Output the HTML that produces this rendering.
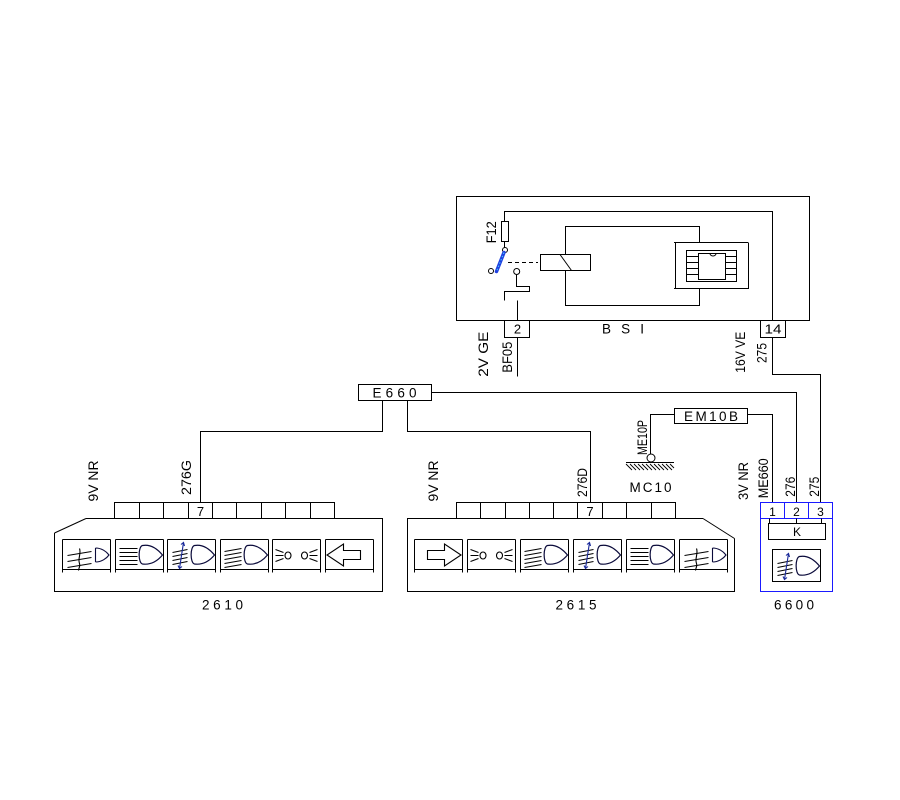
<!DOCTYPE html>
<html><head><meta charset="utf-8"><style>
html,body{margin:0;padding:0;background:#fff;}
svg{display:block;}
text{font-family:"Liberation Sans",sans-serif;fill:#000;}
</style></head><body>
<svg width="900" height="800" viewBox="0 0 900 800" xmlns="http://www.w3.org/2000/svg">
<rect width="900" height="800" fill="#fff"/>
<defs>
  <g id="btn" fill="none" stroke="#000" stroke-width="1" shape-rendering="crispEdges">
    <path d="M0,0 H48 M0,0 V33 M48,0 V33 M0,30 H48"/>
  </g>
  <path id="egg" fill="none" stroke="#0a0a3a" stroke-width="1.2" d="M27,6 C35,4.5 42,9.5 47,15.5 C42,21.5 35,25.5 27,24.5 C22.5,23.5 22.5,7 27,6 Z"/>
  <g id="fog" fill="none" stroke="#000" stroke-width="1.1">
    <path d="M5,16 L29,12 M5,22 L29,18 M5,28 L29,24"/>
    <path d="M17,9 C19,14 15,19 17,24 C18,27 16,29 16,31"/>
    <path stroke="#0a0a3a" d="M33,8.5 V22.5 M33,8.5 C39,8.5 44,12 46.5,15.5 C44,19 39,22.5 33,22.5"/>
  </g>
  <g id="high" fill="none" stroke="#000" stroke-width="1.1">
    <path d="M4,9 H22 M4,13 H22 M4,17 H22 M4,21 H22 M4,25 H22"/>
    <use href="#egg"/>
  </g>
  <g id="dip" fill="none" stroke="#000" stroke-width="1.1">
    <path d="M4,12 L21,9 M4,16 L21,13 M4,20 L21,17 M4,24 L21,21 M4,28 L21,25"/>
    <use href="#egg"/>
  </g>
  <g id="lev" fill="none" stroke="#000" stroke-width="1.1">
    <path d="M5,13 L20,10 M5,17 L20,14 M5,21 L20,18 M5,25 L20,22"/>
    <path stroke="#1a2a9a" d="M16,3 L12,29 M13.5,5 L16,3 L17,6.5 M10.5,26 L12,29 L14.5,27"/>
    <use href="#egg"/>
  </g>
  <g id="side" fill="none" stroke="#000" stroke-width="1.1">
    <path d="M3,10 L11,13 M3,16 H11 M3,22 L11,19"/>
    <ellipse cx="15.5" cy="16" rx="3" ry="3.5"/>
    <ellipse cx="32" cy="16" rx="3" ry="3.5"/>
    <path d="M37,13 L45,10 M37,16 H45 M37,19 L45,22"/>
  </g>
  <g id="arrR" fill="none" stroke="#000" stroke-width="1.1">
    <path d="M13,11 H30 V4.5 L46.5,15.5 L30,26.5 V20 H13 Z"/>
  </g>
  <g id="arrL" fill="none" stroke="#000" stroke-width="1.1">
    <path d="M35,11 H18 V4.5 L1.5,15.5 L18,26.5 V20 H35 Z"/>
  </g>
</defs>

<!-- ===== BSI ===== -->
<g fill="none" stroke="#000" stroke-width="1" shape-rendering="crispEdges">
  <rect x="456.5" y="196.5" width="353" height="124"/>
  <rect x="504.5" y="320.5" width="25" height="17"/>
  <rect x="760.5" y="320.5" width="25" height="17"/>
  <path d="M504.5,221.5 V211.5 H772.5 V320.5"/>
  <rect x="501.5" y="221.5" width="7" height="20"/>
  <path d="M504.5,241.5 V247.5"/>
  <path d="M516.5,275 V286.5 H529.5 V291.5 H504.5 V300.5"/>
  <path d="M517.5,300.5 V320.5"/>
  <rect x="540.5" y="254.5" width="50" height="16"/>
  <path d="M565.5,254.5 V226.5 H699.5 V242.5"/>
  <path d="M565.5,270.5 V305.5 H699.5 V288.5"/>
  <path d="M674,242.5 H748 M675.5,242.5 V289 M748.5,242.5 V289 M674,288.5 H748"/>
  <rect x="686.5" y="250.5" width="50" height="31"/>
  <rect x="698.5" y="253.5" width="27" height="26"/>
  <path d="M686.5,256.5 H698.5 M686.5,262.5 H698.5 M686.5,268.5 H698.5 M686.5,274.5 H698.5 M725.5,256.5 H736.5 M725.5,262.5 H736.5 M725.5,268.5 H736.5 M725.5,274.5 H736.5"/>
  <path d="M517.5,337.5 V376.5"/>
  <path d="M772.5,337.5 V374.5 H820.5 V502.5"/>
</g>
<g fill="none" stroke="#000" stroke-width="1">
  <path d="M560,254.5 L571.5,270.5"/>
  <path d="M508,262.5 H538" stroke-dasharray="4,3"/>
  <circle cx="505" cy="250" r="2.5"/>
  <circle cx="491" cy="271" r="2.5"/>
  <circle cx="516.7" cy="271.5" r="3"/>
  <path d="M710,253.5 A3,2.5 0 0 0 716,253.5"/>
</g>
<path d="M504,252.5 L496.5,271.5" stroke="#2040e0" stroke-width="3.5" stroke-linecap="round"/>
<path d="M504,252.5 L496.5,271.5" stroke="#40d0ff" stroke-width="1" stroke-dasharray="1.5,2"/>

<text x="623" y="333.5" font-size="13.5" text-anchor="middle" textLength="42" lengthAdjust="spacing">BSI</text>
<text x="517.5" y="333.5" font-size="13" text-anchor="middle">2</text>
<text x="773" y="333.5" font-size="13" text-anchor="middle" textLength="17" lengthAdjust="spacingAndGlyphs">14</text>
<text transform="translate(496,243.3) rotate(-90)" font-size="13.5" textLength="22" lengthAdjust="spacingAndGlyphs">F12</text>
<text transform="translate(488,376.7) rotate(-90)" font-size="13.5" textLength="45" lengthAdjust="spacingAndGlyphs">2V GE</text>
<text transform="translate(512,372.7) rotate(-90)" font-size="13.5" textLength="31" lengthAdjust="spacingAndGlyphs">BF05</text>
<text transform="translate(745,372.7) rotate(-90)" font-size="13.5" textLength="41" lengthAdjust="spacingAndGlyphs">16V VE</text>
<text transform="translate(766.5,363) rotate(-90)" font-size="13.5" textLength="20" lengthAdjust="spacingAndGlyphs">275</text>

<!-- ===== E660 / EM10B wiring ===== -->
<g fill="none" stroke="#000" stroke-width="1" shape-rendering="crispEdges">
  <rect x="358.5" y="384.5" width="73" height="16"/>
  <path d="M431.5,392.5 H796.5 V502.5"/>
  <path d="M382.5,400.5 V431.5 H200.5 V502.5"/>
  <path d="M407.5,400.5 V431.5 H590.5 V502.5"/>
  <rect x="674.5" y="408.5" width="73" height="15"/>
  <path d="M674.5,414.5 H650.5 V454"/>
  <path d="M747.5,414.5 H772.5 V502.5"/>
  <path d="M626,462.5 H674"/>
</g>
<circle cx="651" cy="458" r="4" fill="none" stroke="#000" stroke-width="1"/>
<g stroke="#000" stroke-width="0.9">
  <path d="M626,464 L632,470 M630,464 L636,470 M634,464 L640,470 M638,464 L644,470 M642,464 L648,470 M646,464 L652,470 M650,464 L656,470 M654,464 L660,470 M658,464 L664,470 M662,464 L668,470 M666,464 L672,470 M670,464 L674,468"/>
</g>
<text x="394.5" y="397.5" font-size="13.5" text-anchor="middle" textLength="44" lengthAdjust="spacing">E660</text>
<text x="711" y="421" font-size="13.5" text-anchor="middle" textLength="54" lengthAdjust="spacing">EM10B</text>
<text x="650.5" y="492" font-size="13.5" text-anchor="middle" textLength="42" lengthAdjust="spacing">MC10</text>
<text transform="translate(647,455) rotate(-90)" font-size="13.5" textLength="35" lengthAdjust="spacingAndGlyphs">ME10P</text>

<!-- ===== Module 2610 ===== -->
<g fill="none" stroke="#000" stroke-width="1" shape-rendering="crispEdges">
  <rect x="114.5" y="502.5" width="220" height="16"/>
  <path d="M139.5,502.5 V518.5 M163.5,502.5 V518.5 M188.5,502.5 V518.5 M212.5,502.5 V518.5 M236.5,502.5 V518.5 M261.5,502.5 V518.5 M285.5,502.5 V518.5 M310.5,502.5 V518.5"/>
  <path d="M86,518.5 H382.5 V591.5 H54.5 V533"/>
</g>
<path d="M54.5,533 L86,518.5" stroke="#000" stroke-width="1" fill="none"/>
<use href="#btn" transform="translate(62.5,539.5)"/>
<use href="#btn" transform="translate(115.5,539.5)"/>
<use href="#btn" transform="translate(167.5,539.5)"/>
<use href="#btn" transform="translate(220.5,539.5)"/>
<use href="#btn" transform="translate(272.5,539.5)"/>
<use href="#btn" transform="translate(325.5,539.5)"/>
<use href="#fog" transform="translate(62.5,539.5)"/>
<use href="#high" transform="translate(115.5,539.5)"/>
<use href="#lev" transform="translate(167.5,539.5)"/>
<use href="#dip" transform="translate(220.5,539.5)"/>
<use href="#side" transform="translate(272.5,539.5)"/>
<use href="#arrL" transform="translate(325.5,539.5)"/>
<text x="200.5" y="516" font-size="13" text-anchor="middle">7</text>
<text x="222.5" y="609.5" font-size="13.5" text-anchor="middle" textLength="41" lengthAdjust="spacing">2610</text>
<text transform="translate(98,501.5) rotate(-90)" font-size="13.5" textLength="41" lengthAdjust="spacingAndGlyphs">9V NR</text>
<text transform="translate(191,495) rotate(-90)" font-size="13.5" textLength="35" lengthAdjust="spacingAndGlyphs">276G</text>

<!-- ===== Module 2615 ===== -->
<g fill="none" stroke="#000" stroke-width="1" shape-rendering="crispEdges">
  <rect x="456.5" y="502.5" width="219" height="16"/>
  <path d="M480.5,502.5 V518.5 M505.5,502.5 V518.5 M529.5,502.5 V518.5 M553.5,502.5 V518.5 M577.5,502.5 V518.5 M602.5,502.5 V518.5 M626.5,502.5 V518.5 M651.5,502.5 V518.5"/>
  <path d="M703,518.5 H407.5 V591.5 H734.5 V538.5"/>
</g>
<path d="M703,518.5 L734.5,538.5" stroke="#000" stroke-width="1" fill="none"/>
<use href="#btn" transform="translate(414.5,539.5)"/>
<use href="#btn" transform="translate(467.5,539.5)"/>
<use href="#btn" transform="translate(520.5,539.5)"/>
<use href="#btn" transform="translate(573.5,539.5)"/>
<use href="#btn" transform="translate(626.5,539.5)"/>
<use href="#btn" transform="translate(679.5,539.5)"/>
<use href="#arrR" transform="translate(414.5,539.5)"/>
<use href="#side" transform="translate(467.5,539.5)"/>
<use href="#dip" transform="translate(520.5,539.5)"/>
<use href="#lev" transform="translate(573.5,539.5)"/>
<use href="#high" transform="translate(626.5,539.5)"/>
<use href="#fog" transform="translate(679.5,539.5)"/>
<text x="590" y="516" font-size="13" text-anchor="middle">7</text>
<text x="576" y="609.5" font-size="13.5" text-anchor="middle" textLength="41" lengthAdjust="spacing">2615</text>
<text transform="translate(438,501.5) rotate(-90)" font-size="13.5" textLength="41" lengthAdjust="spacingAndGlyphs">9V NR</text>
<text transform="translate(587,497) rotate(-90)" font-size="13.5" textLength="29" lengthAdjust="spacingAndGlyphs">276D</text>

<!-- ===== 6600 ===== -->
<g fill="none" stroke="#1a1aff" stroke-width="1" shape-rendering="crispEdges">
  <rect x="760.5" y="502.5" width="72" height="89"/>
  <path d="M760.5,518.5 H832.5 M784.5,502.5 V518.5 M808.5,502.5 V518.5"/>
</g>
<g fill="none" stroke="#000" stroke-width="1" shape-rendering="crispEdges">
  <rect x="768.5" y="523.5" width="57" height="16"/>
  <path d="M769.5,518.5 V523.5 M796.5,518.5 V523.5 M821.5,518.5 V523.5"/>
  <rect x="772.5" y="549.5" width="48" height="32"/>
</g>
<use href="#lev" transform="translate(772.5,550.5)"/>
<text x="772.5" y="516" font-size="12" text-anchor="middle">1</text>
<text x="796.5" y="516" font-size="12" text-anchor="middle">2</text>
<text x="820.5" y="516" font-size="12" text-anchor="middle">3</text>
<text x="797" y="536" font-size="12" text-anchor="middle">K</text>
<text x="794" y="609.5" font-size="13.5" text-anchor="middle" textLength="40" lengthAdjust="spacing">6600</text>
<text transform="translate(748,500) rotate(-90)" font-size="13.5" textLength="38" lengthAdjust="spacingAndGlyphs">3V NR</text>
<text transform="translate(768,498.3) rotate(-90)" font-size="13.5" textLength="40" lengthAdjust="spacingAndGlyphs">ME660</text>
<text transform="translate(795,496.7) rotate(-90)" font-size="13.5" textLength="20" lengthAdjust="spacingAndGlyphs">276</text>
<text transform="translate(819,496.7) rotate(-90)" font-size="13.5" textLength="20" lengthAdjust="spacingAndGlyphs">275</text>
</svg>
</body></html>
